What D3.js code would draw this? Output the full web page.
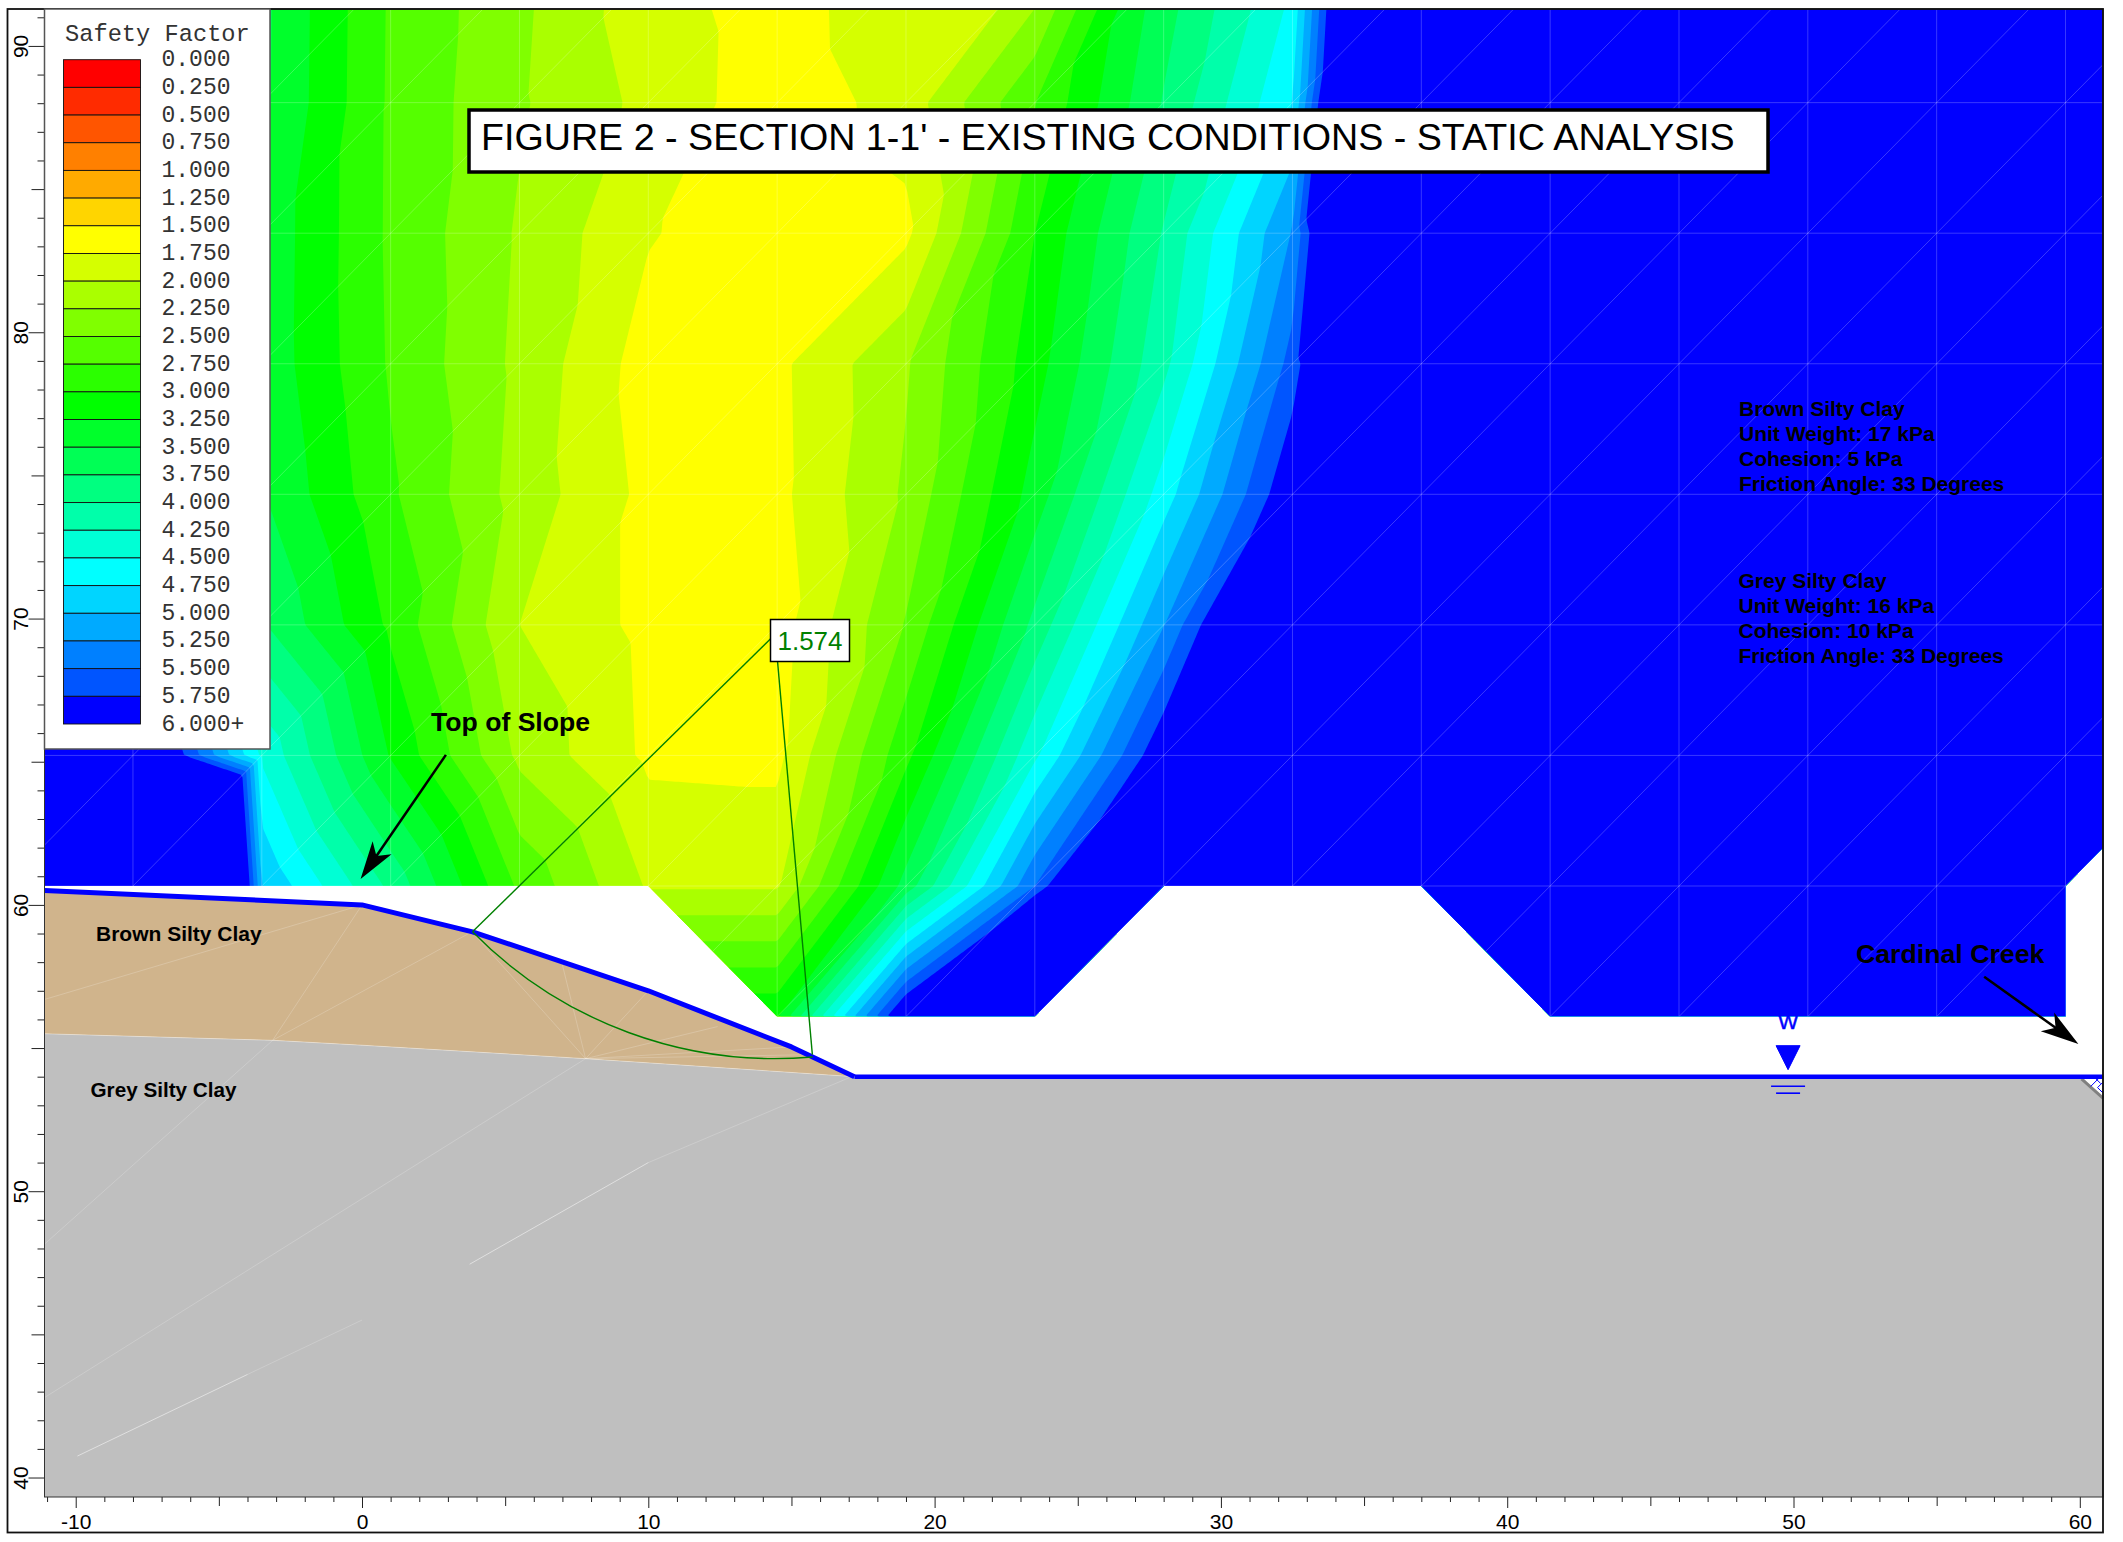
<!DOCTYPE html>
<html>
<head>
<meta charset="utf-8">
<title>Figure 2 - Section 1-1'</title>
<script src="https://cdn.jsdelivr.net/npm/d3@7"></script>
<style>
  html, body { margin: 0; padding: 0; background: #fff; }
  svg { display: block; }
  text { font-family: "Liberation Sans", Arial, sans-serif; }
  .mono { font-family: "Liberation Mono", "Courier New", monospace; }
</style>
</head>
<body>
<svg id="chart" width="2123" height="1542"></svg>
<script>
'use strict'

// legend
const legendLabels = ['0.000', '0.250', '0.500', '0.750', '1.000', '1.250', '1.500', '1.750', '2.000', '2.250', '2.500', '2.750', '3.000', '3.250', '3.500', '3.750', '4.000', '4.250', '4.500', '4.750', '5.000', '5.250', '5.500', '5.750', '6.000+']
const legendColors = ['#ff0000', '#ff2b00', '#ff5500', '#ff8000', '#ffaa00', '#ffd500', '#ffff00', '#d5ff00', '#aaff00', '#80ff00', '#55ff00', '#2bff00', '#00ff00', '#00ff2b', '#00ff55', '#00ff80', '#00ffaa', '#00ffd5', '#00ffff', '#00d5ff', '#00aaff', '#0080ff', '#0055ff', '#0000ff']

// safety factor read at the search grid nodes
const gridX = [-12.5, -8, -3.5, 1, 5.5, 10, 14.5, 19, 23.5, 28, 32.5, 37, 41.5, 46, 50.5, 55, 59.5, 64]
const gridY = [56.1, 60.66, 65.22, 69.78, 74.34, 78.9, 83.46, 88.02, 92.58]
const fsRow56 = [14, 13, 5, 3.9, 3.22, 3.22, 3.22, 6.19, 9, 10, 12, 12, 12, 12, 12, 12, 12, 12]
const fsRow60 = [14, 13, 5, 3.94, 2.7, 1.97, 1.97, 3.6, 5.5, 8, 10, 12, 12, 12, 12, 12, 12, 12]
const fsRow65 = [14, 6.6, 4.46, 3.23, 2.19, 1.7, 1.68, 2.93, 4.45, 6, 9, 12, 12, 12, 12, 12, 12, 12]
const fsRow69 = [8, 6, 3.78, 2.95, 2, 1.68, 1.63, 2.52, 3.82, 5.24, 7, 9, 12, 12, 12, 12, 12, 12]
const fsRow74 = [8, 6, 3.52, 2.79, 2.15, 1.68, 1.68, 2.29, 3.36, 4.62, 6, 8, 12, 12, 12, 12, 12, 12]
const fsRow78 = [8, 6, 3.43, 2.72, 2.19, 1.63, 1.69, 2.22, 3.14, 4.18, 5.6, 8, 12, 12, 12, 12, 12, 12]
const fsRow83 = [8, 6, 3.44, 2.705, 2.22, 1.77, 1.574, 1.69, 3, 4.02, 5.27, 8.9, 12, 12, 12, 12, 12, 12]
const fsRow88 = [8, 6, 3.56, 2.71, 2.28, 1.93, 1.59, 1.85, 2.74, 3.77, 4.75, 9.75, 12, 12, 12, 12, 12, 12]
const fsRow92 = [8, 6, 3.57, 2.72, 2.31, 1.85, 1.6, 1.98, 2.06, 3.6, 4.49, 9, 12, 12, 12, 12, 12, 12]
const fsGrid = [fsRow56, fsRow60, fsRow65, fsRow69, fsRow74, fsRow78, fsRow83, fsRow88, fsRow92]

// outline of the search grid
const fieldOutline = [[-11.09, 60.66], [10, 60.66], [14.5, 56.1], [23.5, 56.1], [28, 60.66], [37, 60.66], [41.5, 56.1], [59.5, 56.1], [59.5, 60.66], [60.81, 62], [60.81, 91.29], [-11.09, 91.29]]

// slope geometry
const slopeSurface = [[-11.09, 60.5], [0, 60], [3.86, 59.06], [10, 57], [15, 55.04], [17.2, 54]]
const creekBed = [[17.2, 54], [60.81, 54]]
const soilBoundary = [[-11.09, 55.5], [-3.12, 55.27], [0, 55.1], [7.81, 54.63], [17.2, 54]]
const greyOutline = [[60.06, 54], [60.81, 53.25], [60.81, 39.32], [-11.09, 39.32]]
const soilMeshLines = [
  [[-11.08, 56.7], [0, 60]], [[-3.12, 55.27], [0, 60]], [[-3.12, 55.27], [3.84, 59.06]], [[3.84, 59.06], [7.81, 54.63]],
  [[7, 57.9], [7.81, 54.63]], [[10, 57], [7.81, 54.63]], [[7.81, 54.63], [12.42, 55.75]], [[7.81, 54.63], [15.03, 55.04]], [[7.81, 54.63], [15.73, 54.77]],
  [[-11.08, 48.16], [-3.12, 55.27]], [[-11.08, 42.8], [7.81, 54.63]], [[-4, 43.6], [0, 45.5]], [[10, 51], [17.03, 53.97]]
]
const brightSoilLines = [[[-9.94, 40.75], [-4, 43.6]], [[3.76, 47.45], [10, 51]]]

// blue hatch in the corner at the right edge
const hatchLines = [[[60.38, 53.66], [60.69, 53.97]], [[60.52, 53.97], [60.73, 53.76]], [[60.62, 53.62], [60.81, 53.43]], [[60.62, 53.62], [60.81, 53.81]]]

// critical slip surface
const slipCenter = [14.43, 69.45]
const slipRadius = 14.82
const slipEntry = [3.86, 59.06]
const slipExit = [15.73, 54.77]
const slipLabel = '1.574'

// water table marker and annotations
const waterX = 49.81
const waterY = 54
const topOfSlopeArrow = [[2.93, 65.24], [-0.05, 60.9]]
const cardinalArrow = [[56.66, 57.49], [59.95, 55.14]]
const brownNotes = ['Brown Silty Clay', 'Unit Weight: 17 kPa', 'Cohesion: 5 kPa', 'Friction Angle: 33 Degrees']
const greyNotes = ['Grey Silty Clay', 'Unit Weight: 16 kPa', 'Cohesion: 10 kPa', 'Friction Angle: 33 Degrees']
const titleText = "FIGURE 2 - SECTION 1-1' - EXISTING CONDITIONS - STATIC ANALYSIS"

const plot = { left: 44.5, right: 2103, top: 9, bottom: 1497 }

const x = d3.scaleLinear().domain([-11.09, 60.81]).range([plot.left, plot.right])
const y = d3.scaleLinear().domain([39.32, 91.29]).range([plot.bottom, plot.top])

const svg = d3.select('#chart')
const line = d3.line().x(d => x(d[0])).y(d => y(d[1]))
const closed = d3.line().x(d => x(d[0])).y(d => y(d[1])).curve(d3.curveLinearClosed)

/**
 * Safety factor at a point, linear on the triangles of the search grid.
 * Each cell is split from its lower left corner to its upper right corner.
 */
function fsAt (px, py) {
  const i = Math.min(d3.bisectRight(gridX, px) - 1, gridX.length - 2)
  const j = Math.min(d3.bisectRight(gridY, py) - 1, gridY.length - 2)
  const u = (px - gridX[i]) / (gridX[i + 1] - gridX[i])
  const w = (py - gridY[j]) / (gridY[j + 1] - gridY[j])
  const a = fsGrid[j][i]
  const b = fsGrid[j][i + 1]
  const c = fsGrid[j + 1][i + 1]
  const d = fsGrid[j + 1][i]
  if (w <= u) return a + u * (b - a) + w * (c - b)
  return a + w * (d - a) + u * (c - d)
}

function drawField () {
  svg.append('clipPath').attr('id', 'field-clip').append('path').attr('d', closed(fieldOutline))
  const g = svg.append('g').attr('clip-path', 'url(#field-clip)')

  const step = 0.1
  const x0 = gridX[0]
  const y0 = gridY[0]
  const nx = Math.floor((gridX[gridX.length - 1] - x0) / step)
  const ny = Math.floor((gridY[gridY.length - 1] - y0) / step)
  const raster = new Float64Array(nx * ny)
  for (let j = 0; j < ny; j++) {
    for (let i = 0; i < nx; i++) {
      raster[j * nx + i] = fsAt(x0 + (i + 0.5) * step, y0 + (j + 0.5) * step)
    }
  }

  const thresholds = legendLabels.slice(1, -1).map(Number)
  const contours = d3.contours().size([nx, ny]).thresholds(thresholds.filter(t => t >= 1.75))(raster)
  const path = d3.geoPath(d3.geoTransform({
    point (cx, cy) { this.stream.point(x(x0 + cx * step), y(y0 + cy * step)) }
  }))

  g.append('rect').attr('x', plot.left).attr('y', plot.top)
    .attr('width', plot.right - plot.left).attr('height', plot.bottom - plot.top)
    .attr('fill', '#ffff00')

  g.selectAll('path.band').data(contours).enter().append('path')
    .attr('class', 'band')
    .attr('d', path)
    .attr('fill', d => legendColors[thresholds.indexOf(d.value) + 1])

  // search grid lines
  const meshLines = []
  gridX.forEach(gx => meshLines.push([[gx, gridY[0]], [gx, gridY[gridY.length - 1]]]))
  gridY.forEach(gy => meshLines.push([[gridX[0], gy], [gridX[gridX.length - 1], gy]]))
  for (let i = 0; i < gridX.length - 1; i++) {
    for (let j = 0; j < gridY.length - 1; j++) {
      meshLines.push([[gridX[i], gridY[j]], [gridX[i + 1], gridY[j + 1]]])
    }
  }
  g.selectAll('path.mesh').data(meshLines).enter().append('path')
    .attr('class', 'mesh')
    .attr('d', line)
    .attr('fill', 'none')
    .attr('stroke', '#fff')
    .attr('stroke-opacity', 0.22)
    .attr('stroke-width', 1)
}

function drawSoils () {
  // grey first, the brown layer sits on top of its upper edge
  svg.append('path')
    .attr('d', closed(soilBoundary.concat(greyOutline)))
    .attr('fill', '#bfbfbf')
  svg.append('path')
    .attr('d', closed(slopeSurface.concat(soilBoundary.slice().reverse())))
    .attr('fill', '#d0b48c')

  svg.append('path').attr('d', line(soilBoundary)).attr('fill', 'none').attr('stroke', '#fff').attr('stroke-opacity', 0.35).attr('stroke-width', 1)
  svg.selectAll('path.soil-mesh').data(soilMeshLines).enter().append('path')
    .attr('class', 'soil-mesh')
    .attr('d', line)
    .attr('fill', 'none')
    .attr('stroke', '#fff')
    .attr('stroke-opacity', 0.2)
    .attr('stroke-width', 1)
  svg.selectAll('path.soil-bright').data(brightSoilLines).enter().append('path')
    .attr('class', 'soil-bright')
    .attr('d', line)
    .attr('fill', 'none')
    .attr('stroke', '#fff')
    .attr('stroke-opacity', 0.5)
    .attr('stroke-width', 1)

  // hatched corner at the right edge
  svg.append('path').attr('d', line([[60.06, 53.92], [60.81, 53.25]]))
    .attr('stroke', '#808080').attr('stroke-width', 3).attr('fill', 'none')
  svg.selectAll('path.hatch').data(hatchLines).enter().append('path')
    .attr('class', 'hatch')
    .attr('d', line)
    .attr('stroke', '#0000ff').attr('stroke-width', 1).attr('fill', 'none')

  svg.append('path').attr('d', line(slopeSurface))
    .attr('fill', 'none').attr('stroke', '#0000ff').attr('stroke-width', 5).attr('stroke-linejoin', 'round')
  svg.append('path').attr('d', line(creekBed))
    .attr('fill', 'none').attr('stroke', '#0000ff').attr('stroke-width', 4.6)
}

function drawWater () {
  const g = svg.append('g').attr('fill', '#0000ff').attr('stroke', '#0000ff')
  const wx = x(waterX)
  const wy = y(waterY)
  g.append('path').attr('d', `M${wx - 12},${wy - 31}H${wx + 12}L${wx},${wy - 7}Z`)
  g.append('line').attr('x1', wx - 17).attr('x2', wx + 17).attr('y1', wy + 9.5).attr('y2', wy + 9.5).attr('stroke-width', 1.6)
  g.append('line').attr('x1', wx - 12).attr('x2', wx + 12).attr('y1', wy + 16.5).attr('y2', wy + 16.5).attr('stroke-width', 1.6)
  g.append('text').attr('x', wx).attr('y', wy - 47.5).attr('text-anchor', 'middle')
    .attr('font-size', 21).attr('stroke-width', 0.5).text('W')
}

function drawSlip () {
  const g = svg.append('g').attr('fill', 'none').attr('stroke', '#008000').attr('stroke-width', 1.4)
  const cx = x(slipCenter[0])
  const cy = y(slipCenter[1])
  const r = x(slipRadius) - x(0)
  const arc = d3.path()
  const a0 = Math.atan2(y(slipEntry[1]) - cy, x(slipEntry[0]) - cx)
  const a1 = Math.atan2(y(slipExit[1]) - cy, x(slipExit[0]) - cx)
  arc.arc(cx, cy, r, a0, a1, true)
  g.append('path').attr('d', arc.toString())
  g.append('path').attr('d', line([slipCenter, slipEntry]))
  g.append('path').attr('d', line([slipCenter, slipExit]))

  const box = svg.append('g')
  box.append('rect').attr('x', 770.5).attr('y', 619.5).attr('width', 79).attr('height', 42)
    .attr('fill', '#fff').attr('stroke', '#000').attr('stroke-width', 1.5)
  box.append('text').attr('x', 810).attr('y', 650).attr('text-anchor', 'middle')
    .attr('font-size', 26).attr('fill', '#008000').text(slipLabel)
}

function drawArrow (ends) {
  const p0 = [x(ends[0][0]), y(ends[0][1])]
  const p1 = [x(ends[1][0]), y(ends[1][1])]
  const len = Math.hypot(p1[0] - p0[0], p1[1] - p0[1])
  const ux = (p1[0] - p0[0]) / len
  const uy = (p1[1] - p0[1]) / len
  const at = (back, side) => [p1[0] - ux * back - uy * side, p1[1] - uy * back + ux * side]
  svg.append('line').attr('x1', p0[0]).attr('y1', p0[1])
    .attr('x2', at(25, 0)[0]).attr('y2', at(25, 0)[1])
    .attr('stroke', '#000').attr('stroke-width', 2.5)
  svg.append('path').attr('fill', '#000')
    .attr('d', 'M' + [p1, at(38, 11.5), at(28, 0), at(38, -11.5)].join('L') + 'Z')
}

function drawTexts () {
  const bold = (tx, ty, size, label) => svg.append('text').attr('x', tx).attr('y', ty)
    .attr('font-size', size).attr('font-weight', 'bold').attr('fill', '#000').text(label)

  bold(431, 731, 26.6, 'Top of Slope')
  bold(1856, 963, 26.7, 'Cardinal Creek')
  bold(96, 940.5, 21, 'Brown Silty Clay')
  bold(90.5, 1097, 20.7, 'Grey Silty Clay')
  brownNotes.forEach((t, i) => bold(1739, 416 + i * 25, 21, t))
  greyNotes.forEach((t, i) => bold(1738.5, 587.5 + i * 25, 21, t))

  svg.append('rect').attr('x', 469).attr('y', 110).attr('width', 1299).attr('height', 62)
    .attr('fill', '#fff').attr('stroke', '#000').attr('stroke-width', 3.5)
  svg.append('text').attr('x', 481).attr('y', 150).attr('font-size', 37.65).attr('fill', '#000').text(titleText)
}

function drawAxes () {
  const yTicks = d3.range(40, 92)
  const xTicks = d3.range(-11, 61)
  const tickLen = (v, minor, mid, major) => v % 10 === 0 ? major : (v % 5 === 0 ? mid : minor)

  const yAxis = svg.append('g').attr('transform', `translate(${plot.left},0)`)
    .call(d3.axisLeft(y).tickValues(yTicks).tickFormat(d => d % 10 === 0 ? d : ''))
  yAxis.select('.domain').remove()
  yAxis.selectAll('.tick line').attr('x2', d => -tickLen(d, 7, 13, 16)).attr('stroke', '#222').attr('stroke-width', 1)
  yAxis.selectAll('.tick text')
    .attr('transform', 'rotate(-90)')
    .attr('x', 0).attr('y', -17).attr('dy', 0)
    .attr('text-anchor', 'middle')
    .attr('font-size', 21)
    .attr('font-family', '"Liberation Sans", Arial, sans-serif')
    .attr('fill', '#000')

  const xAxis = svg.append('g').attr('transform', `translate(0,${plot.bottom})`)
    .call(d3.axisBottom(x).tickValues(xTicks).tickFormat(d => d % 10 === 0 ? d : ''))
  xAxis.select('.domain').remove()
  xAxis.selectAll('.tick line').attr('y2', d => tickLen(d, 5, 9, 11)).attr('stroke', '#222').attr('stroke-width', 1)
  xAxis.selectAll('.tick text')
    .attr('y', 32).attr('dy', 0)
    .attr('text-anchor', 'middle')
    .attr('font-size', 21)
    .attr('font-family', '"Liberation Sans", Arial, sans-serif')
    .attr('fill', '#000')

  svg.append('rect').attr('x', plot.left).attr('y', plot.top)
    .attr('width', plot.right - plot.left).attr('height', plot.bottom - plot.top)
    .attr('fill', 'none').attr('stroke', '#333').attr('stroke-width', 1)
  svg.append('rect').attr('x', 7.5).attr('y', plot.top)
    .attr('width', plot.right - 7.5).attr('height', 1532.5 - plot.top)
    .attr('fill', 'none').attr('stroke', '#111').attr('stroke-width', 1.8)
}

function drawLegend () {
  const g = svg.append('g')
  g.append('rect').attr('x', 44.5).attr('y', 9).attr('width', 225.5).attr('height', 740)
    .attr('fill', '#fff').attr('stroke', '#555').attr('stroke-width', 1.5)
  g.append('text').attr('class', 'mono').attr('x', 65).attr('y', 41)
    .attr('font-size', 23.7).attr('fill', '#333').text('Safety Factor')

  const ly = d3.scaleLinear().domain([0, legendColors.length]).range([59.7, 724])
  g.selectAll('rect.swatch').data(legendColors).enter().append('rect')
    .attr('class', 'swatch')
    .attr('x', 63.5)
    .attr('y', (d, i) => ly(i))
    .attr('width', 77)
    .attr('height', (d, i) => ly(i + 1) - ly(i))
    .attr('fill', d => d)
    .attr('stroke', '#111')
    .attr('stroke-width', 0.9)
  g.selectAll('text.swatch-label').data(legendLabels).enter().append('text')
    .attr('class', 'mono swatch-label')
    .attr('x', 161.5)
    .attr('y', (d, i) => ly(i) + 6.5)
    .attr('font-size', 23)
    .attr('fill', '#333')
    .text(d => d)
}

drawField()
drawSoils()
drawWater()
drawSlip()
drawArrow(topOfSlopeArrow)
drawArrow(cardinalArrow)
drawTexts()
drawAxes()
drawLegend()
</script>
</body>
</html>
